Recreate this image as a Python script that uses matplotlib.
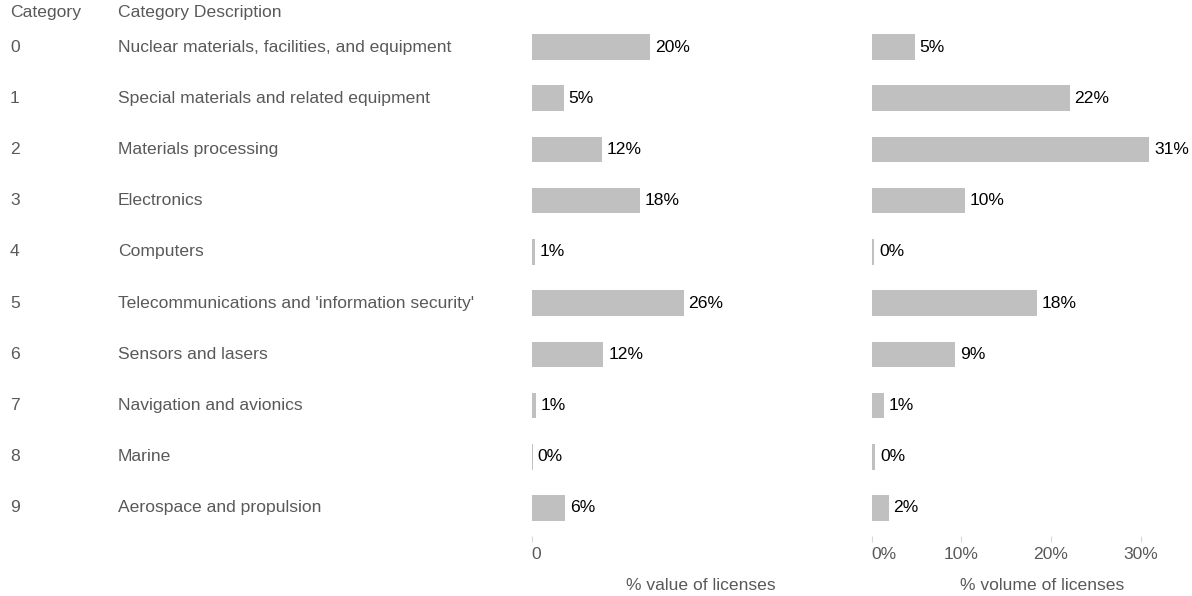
import matplotlib
matplotlib.use("Agg")
import matplotlib.pyplot as plt
from matplotlib.transforms import blended_transform_factory

plt.rcParams['font.family'] = ['Liberation Sans', 'DejaVu Sans']

categories = ["0", "1", "2", "3", "4", "5", "6", "7", "8", "9"]
descriptions = [
    "Nuclear materials, facilities, and equipment",
    "Special materials and related equipment",
    "Materials processing",
    "Electronics",
    "Computers",
    "Telecommunications and 'information security'",
    "Sensors and lasers",
    "Navigation and avionics",
    "Marine",
    "Aerospace and propulsion",
]
value_pct = [20.0, 5.4, 11.9, 18.3, 0.6, 25.7, 12.1, 0.7, 0.2, 5.7]
volume_pct = [4.8, 22.1, 31.0, 10.4, 0.3, 18.4, 9.3, 1.4, 0.4, 1.9]
volume_ticks = [0, 10, 20, 30]

W, H = 1192, 596
fig = plt.figure(figsize=(W / 100, H / 100), dpi=100)

GREY_TEXT = "#595959"
BAR = "#c0c0c0"
FS = 12.6

bottom = 1 - 536 / H
top = 1 - 21.4 / H
ylim = (9.547, -0.5)

ax1 = fig.add_axes([531.7 / W, bottom, 340 / W, top - bottom])
ax2 = fig.add_axes([871.7 / W, bottom, (W - 871.7) / W, top - bottom])

ypos = list(range(len(categories)))

for ax, vals, xmax in ((ax1, value_pct, 340 / 5.915), (ax2, volume_pct, (W - 871.7) / 8.96)):
    ax.barh(ypos, vals, height=0.5, color=BAR, linewidth=0)
    for y, v in zip(ypos, vals):
        ax.annotate(f"{v:.0f}%", xy=(v, y), xytext=(3.5, 0), textcoords="offset points",
                    ha="left", va="center", fontsize=FS, color="black")
    ax.set_xlim(0, xmax)
    ax.set_ylim(*ylim)
    ax.patch.set_visible(False)
    for s in ax.spines.values():
        s.set_visible(False)
    ax.set_yticks([])
    ax.tick_params(axis="x", length=4, width=0.8, color="#d9d9d9",
                   labelcolor=GREY_TEXT, labelsize=FS, pad=4)

ax1.set_xticks([0])
ax1.set_xticklabels(["0"])
ax2.set_xticks(volume_ticks)
ax2.set_xticklabels([f"{t}%" for t in volume_ticks])
for ax in (ax1, ax2):
    first = ax.get_xticklabels()[0]
    first.set_horizontalalignment("left")

# Label column text
tr = blended_transform_factory(fig.transFigure, ax1.transData)
fig.text(10 / W, 1 - 12 / H, "Category", ha="left", va="center", fontsize=FS, color=GREY_TEXT)
fig.text(118 / W, 1 - 12 / H, "Category Description", ha="left", va="center",
         fontsize=FS, color=GREY_TEXT)
for y, c, d in zip(ypos, categories, descriptions):
    ax1.text(10 / W, y, c, transform=tr, ha="left", va="center", fontsize=FS,
             color=GREY_TEXT, clip_on=False)
    ax1.text(118 / W, y, d, transform=tr, ha="left", va="center", fontsize=FS,
             color=GREY_TEXT, clip_on=False)

fig.text(701 / W, 1 - 586 / H, "% value of licenses", ha="center", va="center",
         fontsize=FS, color=GREY_TEXT)
fig.text(1042 / W, 1 - 586 / H, "% volume of licenses", ha="center", va="center",
         fontsize=FS, color=GREY_TEXT)

fig.savefig("out.png", dpi=100)
